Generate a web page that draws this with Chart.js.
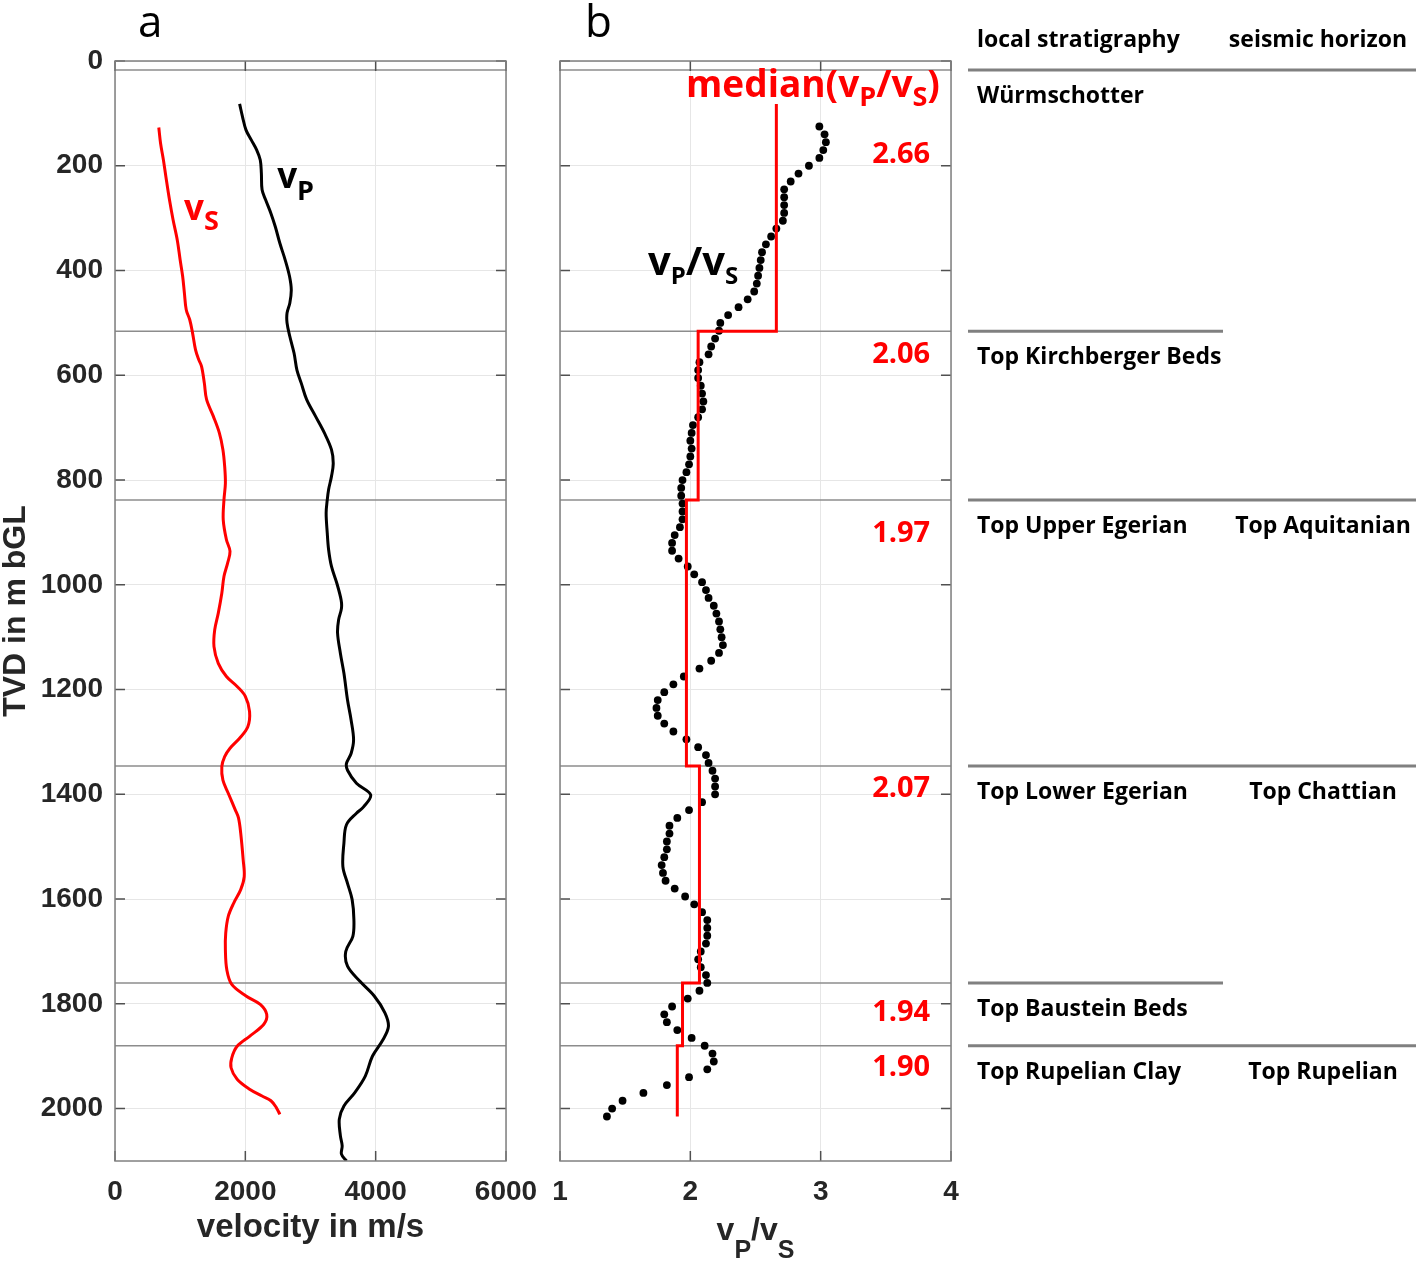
<!DOCTYPE html>
<html>
<head>
<meta charset="utf-8">
<title>Velocity and vP/vS logs versus depth</title>
<script src="https://cdn.jsdelivr.net/npm/chart.js@4.4.1/dist/chart.umd.min.js"></script>
<style>
  body { margin: 0; background: #fff; }
  #wrap { position: relative; width: 1416px; height: 1261px; overflow: hidden; }
  #velChart { position: absolute; left: 0; top: 0; }
  #ratioChart { position: absolute; left: 520px; top: 0; }
</style>
</head>
<body>
<div id="wrap">
  <canvas id="velChart" width="560" height="1261"></canvas>
  <canvas id="ratioChart" width="896" height="1261"></canvas>
</div>
<script>
// P-wave velocity log (depth in m, velocity in m/s)
const vpDepth = [82,106,132,151,170,189,214,246,265,291,316,348,380,411,437,462,481,500,526,558,
  590,615,646,678,710,742,768,793,818,838,863,901,933,965,997,1029,1045,1067,1092,1131,
  1169,1220,1258,1296,1322,1341,1354,1379,1401,1424,1436,1458,1493,1538,1570,1601,1639,1671,1700,1728,
  1757,1785,1817,1843,1868,1900,1938,1970,1995,2020,2052,2071,2087,2100];
const vpVel = [1912,1956,2011,2093,2175,2229,2246,2257,2311,2393,2459,2530,2612,2678,2705,2683,2640,2640,2683,2748,
  2792,2858,2940,3076,3213,3322,3349,3322,3278,3257,3240,3257,3278,3322,3404,3470,3475,3431,3415,3459,
  3513,3568,3623,3661,3623,3552,3568,3705,3923,3814,3705,3552,3513,3497,3568,3639,3666,3650,3541,3568,
  3759,3978,4142,4196,4114,3950,3841,3677,3513,3442,3459,3486,3475,3552];

// S-wave velocity log
const vsDepth = [127,157,189,221,265,303,342,380,411,443,475,494,520,551,570,583,615,646,678,710,
  742,774,806,838,876,914,936,959,984,1016,1054,1086,1118,1150,1175,1194,1213,1242,1271,1293,
  1312,1328,1347,1373,1398,1430,1445,1474,1525,1557,1582,1608,1633,1665,1697,1735,1763,1785,1801,1820,
  1839,1862,1881,1903,1922,1944,1963,1976,1985,1998,2011];
const vsVel = [672,699,743,781,836,891,956,1000,1038,1065,1093,1147,1191,1235,1284,1328,1371,1405,1508,1601,
  1656,1683,1694,1672,1661,1710,1765,1727,1672,1639,1585,1530,1519,1585,1710,1874,2000,2065,2038,1912,
  1765,1683,1639,1656,1738,1847,1895,1929,1967,1983,1929,1820,1738,1699,1694,1716,1792,2011,2229,2328,
  2284,2065,1874,1792,1781,1874,2065,2257,2393,2475,2530];

// vP/vS samples
const ratioDepth = [125,140,155,170,185,200,215,230,245,260,
  275,290,305,320,335,350,365,380,395,410,
  425,440,455,470,485,500,515,530,545,560,
  575,590,605,620,635,650,665,680,695,710,
  725,740,755,770,785,800,815,830,845,860,
  875,890,905,920,935,950,965,980,995,1010,
  1025,1040,1055,1070,1085,1100,1115,1130,1145,1160,
  1175,1190,1205,1220,1235,1250,1265,1280,1295,1310,
  1325,1340,1355,1370,1385,1400,1415,1430,1445,1460,
  1475,1490,1505,1520,1535,1550,1565,1580,1595,1610,
  1625,1640,1655,1670,1685,1700,1715,1730,1745,1760,
  1775,1790,1805,1820,1835,1850,1865,1880,1895,1910,
  1925,1940,1955,1970,1985,2000,2015];
const ratioVal = [2.99,3.03,3.04,3.02,2.99,2.91,2.83,2.77,2.72,2.72,
  2.72,2.72,2.71,2.66,2.62,2.58,2.55,2.54,2.53,2.52,
  2.51,2.49,2.44,2.37,2.29,2.23,2.22,2.19,2.16,2.14,
  2.07,2.06,2.06,2.08,2.09,2.10,2.09,2.06,2.02,2.01,
  2.00,2.01,2.00,1.99,1.97,1.94,1.93,1.93,1.94,1.94,
  1.94,1.92,1.88,1.86,1.86,1.91,1.98,2.03,2.09,2.12,
  2.14,2.18,2.20,2.22,2.23,2.24,2.25,2.22,2.16,2.07,
  1.95,1.87,1.80,1.75,1.74,1.75,1.80,1.87,1.97,2.06,
  2.12,2.14,2.17,2.19,2.19,2.19,2.09,1.99,1.90,1.84,
  1.84,1.82,1.82,1.80,1.78,1.79,1.81,1.88,1.96,2.03,
  2.09,2.13,2.13,2.13,2.12,2.08,2.06,2.08,2.12,2.13,
  2.07,1.98,1.86,1.80,1.82,1.90,2.01,2.11,2.17,2.18,
  2.13,1.99,1.82,1.64,1.48,1.40,1.36];

// median vP/vS per unit
const medianTop = [82, 516, 838, 1346, 1760, 1880];
const medianBase = [516, 838, 1346, 1760, 1880, 2015];
const medianVal = [2.66, 2.06, 1.97, 2.07, 1.94, 1.90];

// stratigraphic tops
const horizonDepth = [17, 516, 838, 1346, 1760, 1880];
const stratNames = ['Würmschotter', 'Top Kirchberger Beds', 'Top Upper Egerian', 'Top Lower Egerian', 'Top Baustein Beds', 'Top Rupelian Clay'];
const seismicNames = ['', '', 'Top Aquitanian', 'Top Chattian', '', 'Top Rupelian'];

const axisGrey = '#262626';
const tickFont = { family: 'Liberation Sans', size: 28, weight: 'bold' };
const labelFamily = '"Open Sans", "Noto Sans", sans-serif';

function pairs(xs, ys) {
  return xs.map((x, i) => ({ x: x, y: ys[i] }));
}

function medianSteps() {
  const pts = [];
  medianVal.forEach((v, i) => {
    pts.push({ x: v, y: medianTop[i] });
    pts.push({ x: v, y: medianBase[i] });
  });
  return pts;
}

function richText(ctx, x, y, parts, color, mainPx, subPx, subDy, weight, family) {
  ctx.save();
  ctx.fillStyle = color;
  ctx.textAlign = 'left';
  ctx.textBaseline = 'alphabetic';
  let cx = x;
  parts.forEach(p => {
    ctx.font = weight + ' ' + (p[1] ? subPx : mainPx) + 'px ' + (family || labelFamily);
    ctx.fillText(p[0], cx, p[1] ? y + subDy : y);
    cx += ctx.measureText(p[0]).width;
  });
  ctx.restore();
}

function depthAxis(withLabels, leftWidth) {
  return {
    type: 'linear',
    position: 'left',
    reverse: true,
    min: 0,
    max: 2100,
    afterFit: s => { s.width = leftWidth; },
    ticks: {
      display: withLabels,
      stepSize: 200,
      includeBounds: false,
      padding: 12,
      color: axisGrey,
      font: tickFont,
      callback: v => String(v)
    },
    grid: { color: '#e6e6e6', lineWidth: 1, drawTicks: false },
    border: { display: false },
    title: {
      display: withLabels,
      text: 'TVD in m bGL',
      color: axisGrey,
      font: { family: 'Liberation Sans', size: 32, weight: 'bold', lineHeight: 1 },
      padding: 0
    }
  };
}

function valueAxis(min, max, step, titleText) {
  return {
    type: 'linear',
    position: 'bottom',
    min: min,
    max: max,
    afterFit: s => { s.height = 100; },
    ticks: {
      stepSize: step,
      padding: 14,
      maxRotation: 0,
      color: axisGrey,
      font: tickFont,
      callback: v => String(v)
    },
    grid: { color: '#e6e6e6', lineWidth: 1, drawTicks: false },
    border: { display: false },
    title: {
      display: !!titleText,
      text: titleText || '',
      color: axisGrey,
      font: { family: 'Liberation Sans', size: 33, weight: 'bold' },
      padding: { top: 0, bottom: 13 }
    }
  };
}

// horizons, box and inward tick marks (MATLAB look)
function framePlugin(extra) {
  return {
    id: 'frame',
    beforeDatasetsDraw(chart) {
      const { ctx, chartArea: a, scales: { y } } = chart;
      ctx.save();
      ctx.strokeStyle = '#8c8c8c';
      ctx.lineWidth = 1.5;
      horizonDepth.forEach(d => {
        const py = y.getPixelForValue(d);
        ctx.beginPath();
        ctx.moveTo(a.left, py);
        ctx.lineTo(a.right, py);
        ctx.stroke();
      });
      ctx.restore();
    },
    afterDatasetsDraw(chart) {
      const { ctx, chartArea: a, scales: { x, y } } = chart;
      const tl = 10;
      ctx.save();
      ctx.strokeStyle = '#505050';
      ctx.lineWidth = 1.5;
      ctx.beginPath();
      x.ticks.forEach(t => {
        const px = x.getPixelForValue(t.value);
        ctx.moveTo(px, a.top); ctx.lineTo(px, a.top + tl);
        ctx.moveTo(px, a.bottom); ctx.lineTo(px, a.bottom - tl);
      });
      y.ticks.forEach(t => {
        const py = y.getPixelForValue(t.value);
        ctx.moveTo(a.left, py); ctx.lineTo(a.left + tl, py);
        ctx.moveTo(a.right, py); ctx.lineTo(a.right - tl, py);
      });
      ctx.stroke();
      ctx.strokeStyle = '#808080';
      ctx.strokeRect(a.left, a.top, a.right - a.left, a.bottom - a.top);
      ctx.restore();
    },
    afterDraw(chart) { extra(chart); }
  };
}

const baseOptions = {
  responsive: false,
  animation: false,
  events: [],
  plugins: { legend: { display: false }, tooltip: { enabled: false }, title: { display: false } }
};

// ---------- panel a: velocities ----------
new Chart(document.getElementById('velChart'), {
  type: 'scatter',
  data: {
    datasets: [
      {
        label: 'vP',
        data: pairs(vpVel, vpDepth),
        showLine: true,
        borderColor: '#000000',
        borderWidth: 3,
        pointRadius: 0,
        tension: 0.35
      },
      {
        label: 'vS',
        data: pairs(vsVel, vsDepth),
        showLine: true,
        borderColor: '#ff0000',
        borderWidth: 3,
        pointRadius: 0,
        tension: 0.35
      }
    ]
  },
  options: Object.assign({}, baseOptions, {
    layout: { padding: { top: 61, right: 54, left: 0, bottom: 0 } },
    scales: {
      x: valueAxis(0, 6000, 2000, 'velocity in m/s'),
      y: depthAxis(true, 115)
    }
  }),
  plugins: [framePlugin(chart => {
    const { ctx, scales: { x, y } } = chart;
    ctx.save();
    ctx.fillStyle = '#000';
    ctx.font = '400 44px ' + labelFamily;
    ctx.textBaseline = 'alphabetic';
    ctx.fillText('a', 138, 37);
    ctx.restore();
    richText(ctx, x.getPixelForValue(2488), y.getPixelForValue(243), [['v', false], ['P', true]], '#000', 35, 27, 12, 'bold');
    richText(ctx, x.getPixelForValue(1060), y.getPixelForValue(304), [['v', false], ['S', true]], '#ff0000', 35, 27, 10, 'bold');
  })]
});

// ---------- panel b: vP/vS ----------
new Chart(document.getElementById('ratioChart'), {
  type: 'scatter',
  data: {
    datasets: [
      {
        label: 'median(vP/vS)',
        data: medianSteps(),
        showLine: true,
        borderColor: '#ff0000',
        borderWidth: 3,
        pointRadius: 0,
        tension: 0,
        order: 0
      },
      {
        label: 'vP/vS',
        data: pairs(ratioVal, ratioDepth),
        showLine: false,
        pointRadius: 3.9,
        pointBorderWidth: 0,
        backgroundColor: '#000000',
        borderColor: '#000000',
        order: 1
      }
    ]
  },
  options: Object.assign({}, baseOptions, {
    layout: { padding: { top: 61, right: 465, left: 0, bottom: 0 } },
    scales: {
      x: valueAxis(1, 4, 1, ''),
      y: depthAxis(false, 40)
    }
  }),
  plugins: [framePlugin(chart => {
    const { ctx, chartArea: a, scales: { x, y } } = chart;
    ctx.save();
    ctx.fillStyle = '#000';
    ctx.font = '400 44px ' + labelFamily;
    ctx.textBaseline = 'alphabetic';
    ctx.fillText('b', 65, 37);
    ctx.restore();

    // x-axis title with subscripts
    const tParts = [['v', false], ['P', true], ['/', false], ['v', false], ['S', true]];
    ctx.save();
    let w = 0;
    tParts.forEach(p => {
      ctx.font = 'bold ' + (p[1] ? 25 : 32) + 'px "Liberation Sans"';
      w += ctx.measureText(p[0]).width;
    });
    ctx.restore();
    richText(ctx, (a.left + a.right) / 2 - w / 2, 1240, tParts, axisGrey, 32, 25, 18, 'bold', '"Liberation Sans"');

    // curve labels
    richText(ctx, x.getPixelForValue(1.675), y.getPixelForValue(409),
      [['v', false], ['P', true], ['/', false], ['v', false], ['S', true]], '#000', 40, 24, 9, 'bold');
    richText(ctx, x.getPixelForValue(1.967), y.getPixelForValue(69),
      [['median(', false], ['v', false], ['P', true], ['/', false], ['v', false], ['S', true], [')', false]], '#ff0000', 37, 27, 9, 'bold');

    // median values
    const medianLabelDepth = [195, 577, 918, 1405, 1833, 1937];
    ctx.save();
    ctx.fillStyle = '#ff0000';
    ctx.font = 'bold 29px ' + labelFamily;
    ctx.textAlign = 'right';
    ctx.textBaseline = 'alphabetic';
    medianVal.forEach((v, i) => {
      ctx.fillText(v.toFixed(2), x.getPixelForValue(3.84), y.getPixelForValue(medianLabelDepth[i]));
    });
    ctx.restore();

    // stratigraphy table to the right
    const lineStart = a.right + 17;
    const colLeft = a.right + 26;
    const seisCenter = a.right + 372;
    const shortEnd = a.right + 272;
    ctx.save();
    ctx.fillStyle = '#000';
    ctx.font = 'bold 23px ' + labelFamily;
    ctx.textBaseline = 'alphabetic';
    ctx.textAlign = 'left';
    ctx.fillText('local stratigraphy', colLeft, 47);
    ctx.textAlign = 'center';
    ctx.fillText('seismic horizon', seisCenter - 5, 47);
    horizonDepth.forEach((d, i) => {
      const py = y.getPixelForValue(d);
      const full = i === 0 || seismicNames[i] !== '';
      ctx.strokeStyle = '#808080';
      ctx.lineWidth = 3;
      ctx.beginPath();
      ctx.moveTo(lineStart, py);
      ctx.lineTo(full ? chart.width : shortEnd, py);
      ctx.stroke();
      ctx.textAlign = 'left';
      ctx.fillText(stratNames[i], colLeft, py + 33);
      if (seismicNames[i]) {
        ctx.textAlign = 'center';
        ctx.fillText(seismicNames[i], seisCenter, py + 33);
      }
    });
    ctx.restore();
  })]
});
</script>
</body>
</html>
